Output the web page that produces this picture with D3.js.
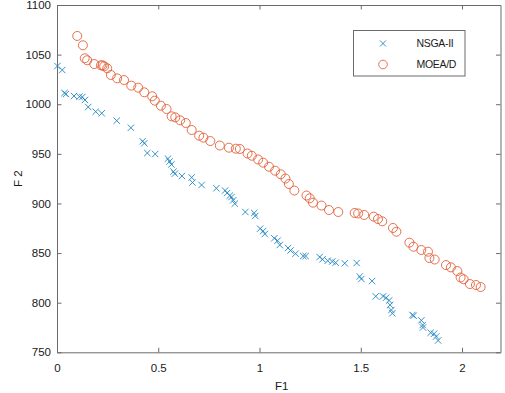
<!DOCTYPE html>
<html>
<head>
<meta charset="utf-8">
<script src="https://cdn.jsdelivr.net/npm/d3@7"></script>
<style>
  body { margin: 0; background: #fff; }
  svg { display: block; font-family: "Liberation Sans", Arial, sans-serif; }
</style>
</head>
<body>
<svg></svg>
<script>
let width = 505
let height = 393

let margin = { left: 57, right: 4.5, top: 5, bottom: 40.7 }

let xTicks = [0, 0.5, 1, 1.5, 2]
let yTicks = [750, 800, 850, 900, 950, 1000, 1050, 1100]

let seriesNames = ["NSGA-II", "MOEA/D"]

// NSGA-II front
let nsgaF1 = [0.002, 0.026, 0.037, 0.044, 0.084, 0.111, 0.125, 0.138, 0.154, 0.191,
  0.221, 0.295, 0.365, 0.423, 0.431, 0.446, 0.485, 0.548, 0.556, 0.565,
  0.575, 0.582, 0.617, 0.665, 0.669, 0.714, 0.787, 0.830, 0.840, 0.853,
  0.862, 0.870, 0.878, 0.930, 0.974, 0.979, 1.003, 1.018, 1.026, 1.073,
  1.089, 1.100, 1.141, 1.153, 1.178, 1.216, 1.228, 1.297, 1.311, 1.337,
  1.359, 1.376, 1.421, 1.480, 1.495, 1.503, 1.556, 1.574, 1.610, 1.625,
  1.640, 1.645, 1.651, 1.656, 1.755, 1.761, 1.799, 1.806, 1.807, 1.845,
  1.862, 1.872, 1.882]
let nsgaF2 = [1038.5, 1034.5, 1011.3, 1010.3, 1008.3, 1007.6, 1007.3, 1004.3, 997.2, 992.5,
  990.9, 983.4, 976.3, 962.7, 960.6, 950.8, 949.8, 945.1, 942.3, 939.3,
  932.0, 930.0, 927.7, 926.2, 921.1, 918.6, 915.3, 913.0, 910.5, 907.8,
  906.5, 903.2, 899.8, 891.4, 890.4, 887.4, 874.6, 872.2, 869.2, 864.9,
  862.5, 858.1, 855.1, 852.6, 849.4, 847.0, 847.0, 846.0, 843.7, 842.3,
  841.5, 840.3, 839.7, 840.0, 826.4, 823.9, 821.8, 806.4, 806.4, 805.0,
  802.2, 797.7, 792.6, 789.3, 787.6, 786.9, 782.2, 777.5, 775.0, 769.7,
  768.7, 765.9, 761.9]

// MOEA/D front
let moeaF1 = [0.100, 0.128, 0.137, 0.149, 0.184, 0.217, 0.225, 0.233, 0.248, 0.266,
  0.297, 0.331, 0.367, 0.401, 0.431, 0.470, 0.483, 0.513, 0.541, 0.566,
  0.584, 0.608, 0.636, 0.665, 0.702, 0.723, 0.757, 0.804, 0.849, 0.883,
  0.903, 0.941, 0.962, 0.993, 1.018, 1.047, 1.077, 1.105, 1.128, 1.145,
  1.172, 1.232, 1.248, 1.264, 1.306, 1.343, 1.389, 1.470, 1.487, 1.517,
  1.564, 1.585, 1.606, 1.659, 1.676, 1.740, 1.760, 1.799, 1.832, 1.839,
  1.865, 1.921, 1.945, 1.977, 1.993, 2.008, 2.039, 2.069, 2.092]
let moeaF2 = [1068.8, 1059.4, 1046.3, 1044.3, 1040.5, 1039.2, 1039.2, 1038.2, 1036.2, 1029.5,
  1026.1, 1024.4, 1018.7, 1016.7, 1012.0, 1008.0, 1003.6, 998.5, 995.2, 987.8,
  986.8, 983.8, 981.1, 974.0, 968.3, 966.3, 962.9, 958.4, 956.2, 955.2,
  954.9, 950.3, 948.1, 944.3, 941.1, 937.0, 933.0, 929.4, 925.1, 919.6,
  913.0, 908.0, 905.2, 900.8, 897.9, 893.4, 891.4, 890.4, 889.9, 888.4,
  886.7, 884.3, 882.0, 875.3, 871.5, 860.5, 856.4, 853.1, 851.4, 845.0,
  843.5, 837.9, 835.6, 831.9, 825.4, 823.6, 818.8, 817.8, 815.8]

let blue = "#1f86c2"
let orange = "#e2613a"
let axisColor = "#6b6b6b"

let svg = d3.select('svg')
  .attr('width', width)
  .attr('height', height)

let xScale = d3.scaleLinear()
  .domain([0, 2.19])
  .range([margin.left, width - margin.right])

let yScale = d3.scaleLinear()
  .domain([750, 1100])
  .range([height - margin.bottom, margin.top])

let crossPath = "M-3.2,-3.2L3.2,3.2M3.2,-3.2L-3.2,3.2"

let styleAxis = (g) => {
  g.select('.domain').attr('stroke', axisColor).attr('stroke-width', 1)
  g.selectAll('.tick line').attr('stroke', axisColor)
  g.selectAll('.tick text')
    .attr('fill', '#1a1a1a')
    .style('font-size', '11.5px')
    .style('font-family', '"Liberation Sans", Arial, sans-serif')
}

let drawAxes = () => {
  let plotBottom = height - margin.bottom
  let plotRight = width - margin.right

  svg.append('g')
    .attr('transform', 'translate(0,' + plotBottom + ')')
    .call(d3.axisBottom(xScale).tickValues(xTicks).tickFormat(d3.format('')).tickSizeInner(-4.5).tickSizeOuter(0).tickPadding(12))
    .call(styleAxis)

  svg.append('g')
    .attr('transform', 'translate(0,' + margin.top + ')')
    .call(d3.axisTop(xScale).tickValues(xTicks).tickFormat('').tickSizeInner(-4.5).tickSizeOuter(0))
    .call(styleAxis)

  svg.append('g')
    .attr('transform', 'translate(' + margin.left + ',0)')
    .call(d3.axisLeft(yScale).tickValues(yTicks).tickFormat(d3.format('d')).tickSizeInner(-4.5).tickSizeOuter(0).tickPadding(6))
    .call(styleAxis)

  svg.append('g')
    .attr('transform', 'translate(' + plotRight + ',0)')
    .call(d3.axisRight(yScale).tickValues(yTicks).tickFormat('').tickSizeInner(-4.5).tickSizeOuter(0))
    .call(styleAxis)

  svg.append('text')
    .attr('x', (margin.left + plotRight) / 2 + 3)
    .attr('y', 390)
    .attr('text-anchor', 'middle')
    .style('font-size', '11.5px')
    .attr('fill', '#1a1a1a')
    .text('F1')

  svg.append('text')
    .attr('transform', 'translate(22,' + ((margin.top + plotBottom) / 2) + ') rotate(-90)')
    .attr('text-anchor', 'middle')
    .style('font-size', '11.5px')
    .attr('fill', '#1a1a1a')
    .text('F 2')
}

let drawPoints = () => {
  let nsga = nsgaF1.map((f1, i) => ({ f1: f1, f2: nsgaF2[i] }))
  let moea = moeaF1.map((f1, i) => ({ f1: f1, f2: moeaF2[i] }))

  svg.append('g')
    .selectAll('path')
    .data(nsga)
    .enter()
    .append('path')
    .attr('d', crossPath)
    .attr('transform', (item) => 'translate(' + xScale(item.f1) + ',' + yScale(item.f2) + ')')
    .attr('fill', 'none')
    .attr('stroke', blue)
    .attr('stroke-width', 0.9)

  svg.append('g')
    .selectAll('circle')
    .data(moea)
    .enter()
    .append('circle')
    .attr('cx', (item) => xScale(item.f1))
    .attr('cy', (item) => yScale(item.f2))
    .attr('r', 4.5)
    .attr('fill', 'none')
    .attr('stroke', orange)
    .attr('stroke-width', 0.9)
}

let drawLegend = () => {
  let legend = svg.append('g').attr('transform', 'translate(353.5,30.5)')

  legend.append('rect')
    .attr('width', 111.5)
    .attr('height', 45.5)
    .attr('fill', '#fff')
    .attr('stroke', axisColor)
    .attr('stroke-width', 1)

  let rows = [13, 34]

  legend.append('path')
    .attr('d', "M-3,-3L3,3M3,-3L-3,3")
    .attr('transform', 'translate(29.5,' + rows[0] + ')')
    .attr('fill', 'none')
    .attr('stroke', blue)
    .attr('stroke-width', 0.9)

  legend.append('circle')
    .attr('cx', 29.5)
    .attr('cy', rows[1])
    .attr('r', 4.3)
    .attr('fill', 'none')
    .attr('stroke', orange)
    .attr('stroke-width', 0.9)

  legend.selectAll('text.name')
    .data(seriesNames)
    .enter()
    .append('text')
    .attr('class', 'name')
    .attr('x', 63)
    .attr('y', (d, i) => rows[i] + 3.8)
    .style('font-size', '10.5px')
    .style('letter-spacing', '-0.3px')
    .attr('fill', '#1a1a1a')
    .text((d) => d)
}

drawAxes()
drawPoints()
drawLegend()
</script>
</body>
</html>
